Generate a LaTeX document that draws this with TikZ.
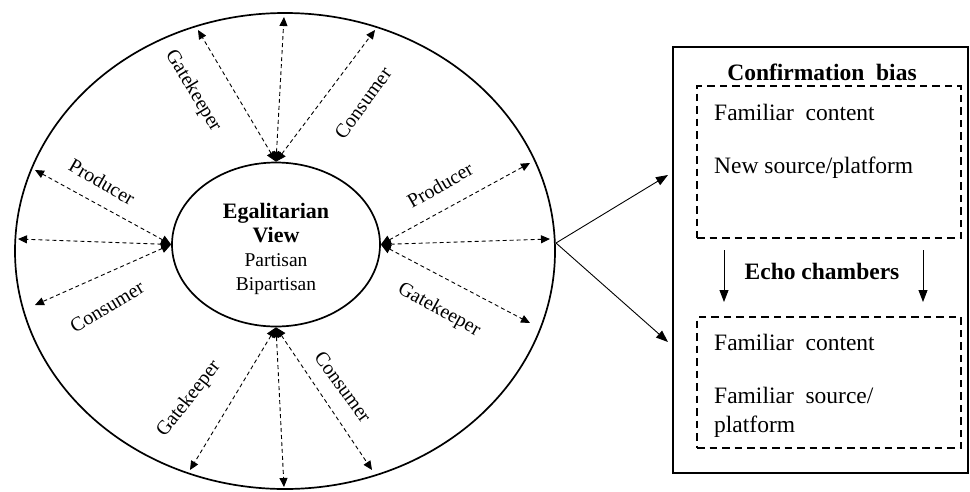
\documentclass[tikz,border=0pt]{standalone}
\usepackage{fontspec}
\setmainfont{Liberation Serif}
\usetikzlibrary{arrows.meta,shapes.geometric}
\begin{document}
\begin{tikzpicture}[x=1pt,y=-1pt,
  dasharrow/.style={dash pattern=on 4pt off 3pt, line width=0.9pt,
    {Triangle[length=10pt,width=9pt]}-{Triangle[length=9pt,width=8pt]}},
  rolelabel/.style={font=\fontsize{20}{22}\selectfont, inner sep=0pt},
  solidarrow/.style={line width=0.9pt, -{Triangle[length=12pt,width=9pt]}},
  dashbox/.style={draw, line width=1.5pt, dash pattern=on 7.5pt off 5pt, inner sep=0pt},
  boxtext/.style={font=\fontsize{23.5}{29}\selectfont, inner sep=0pt, anchor=west},
  boldtext/.style={font=\fontsize{23.5}{28}\selectfont\bfseries, inner sep=0pt},
  ring/.style={draw, ellipse, line width=1.7pt, inner sep=0pt},
]
\useasboundingbox (0,0) rectangle (970,491);

% ellipses
\node[ring, minimum width=540pt, minimum height=476pt] (outer) at (285,251) {};
\node[ring, minimum width=208pt, minimum height=164pt] (view) at (276,244.5) {};
\node[align=center, inner sep=0pt, font=\fontsize{19.5}{24}\selectfont] (viewtxt) at (276,249)
  {\textbf{\fontsize{22}{24}\selectfont Egalitarian}\\\textbf{\fontsize{22}{24}\selectfont View}\\Partisan\\Bipartisan};

% outer tips
\coordinate (t1) at (198,30);
\coordinate (t2) at (284,17);
\coordinate (t3) at (375,30);
\coordinate (l1) at (35,170);
\coordinate (l2) at (18,239);
\coordinate (l3) at (35,305);
\coordinate (r1) at (530,163);
\coordinate (r2) at (550,239);
\coordinate (r3) at (530,323);
\coordinate (b1) at (190,470);
\coordinate (b2) at (284,487);
\coordinate (b3) at (372,470);

\draw[dasharrow] (view.north) -- (t1);
\draw[dasharrow] (view.north) -- (t2);
\draw[dasharrow] (view.north) -- (t3);
\draw[dasharrow] (view.west) -- (l1);
\draw[dasharrow] (view.west) -- (l2);
\draw[dasharrow] (view.west) -- (l3);
\draw[dasharrow] (view.east) -- (r1);
\draw[dasharrow] (view.east) -- (r2);
\draw[dasharrow] (view.east) -- (r3);
\draw[dasharrow] (view.south) -- (b1);
\draw[dasharrow] (view.south) -- (b2);
\draw[dasharrow] (view.south) -- (b3);

% role labels
\node[rolelabel, rotate=-59] (gk1) at (193,91) {Gatekeeper};
\node[rolelabel, rotate=54] (cs1) at (363,103) {Consumer};
\node[rolelabel, rotate=-30] (pr1) at (102,182) {Producer};
\node[rolelabel, rotate=31] (cs2) at (107,307) {Consumer};
\node[rolelabel, rotate=30] (pr2) at (440,185) {Producer};
\node[rolelabel, rotate=-29] (gk2) at (439,310) {Gatekeeper};
\node[rolelabel, rotate=52] (gk3) at (189,399) {Gatekeeper};
\node[rolelabel, rotate=-54] (cs3) at (343,387) {Consumer};

% right panel
\node[draw, line width=1.5pt, minimum width=295pt, minimum height=426pt, inner sep=0pt] (panel) at (820.5,260) {};
\node[boldtext] (cb) at (822,72) {Confirmation~ bias};
\node[dashbox, minimum width=264pt, minimum height=152pt] (box1) at (829,162) {};
\node[boxtext] (fc1) at (714,112) {Familiar~ content};
\node[boxtext] (ns) at (714,168) {New source/platform};
\node[boldtext] (ec) at (822,271) {Echo chambers};
\node[dashbox, minimum width=264pt, minimum height=131pt] (box2) at (829,382.5) {};
\node[boxtext] (fc2) at (714,342) {Familiar~ content};
\node[boxtext, align=left] (fs) at (714,412.5) {Familiar~ source/\\platform};

% down arrows
\coordinate (d1s) at (724,250);
\coordinate (d1e) at (724,302);
\coordinate (d2s) at (923,250);
\coordinate (d2e) at (923,302);
\draw[solidarrow] (d1s) -- (d1e);
\draw[solidarrow] (d2s) -- (d2e);

% fan arrows
\coordinate (fan) at (556,243);
\coordinate (f1) at (668,175);
\coordinate (f2) at (668,342);
\draw[solidarrow] (fan) -- (f1);
\draw[solidarrow] (fan) -- (f2);
\end{tikzpicture}
\end{document}
